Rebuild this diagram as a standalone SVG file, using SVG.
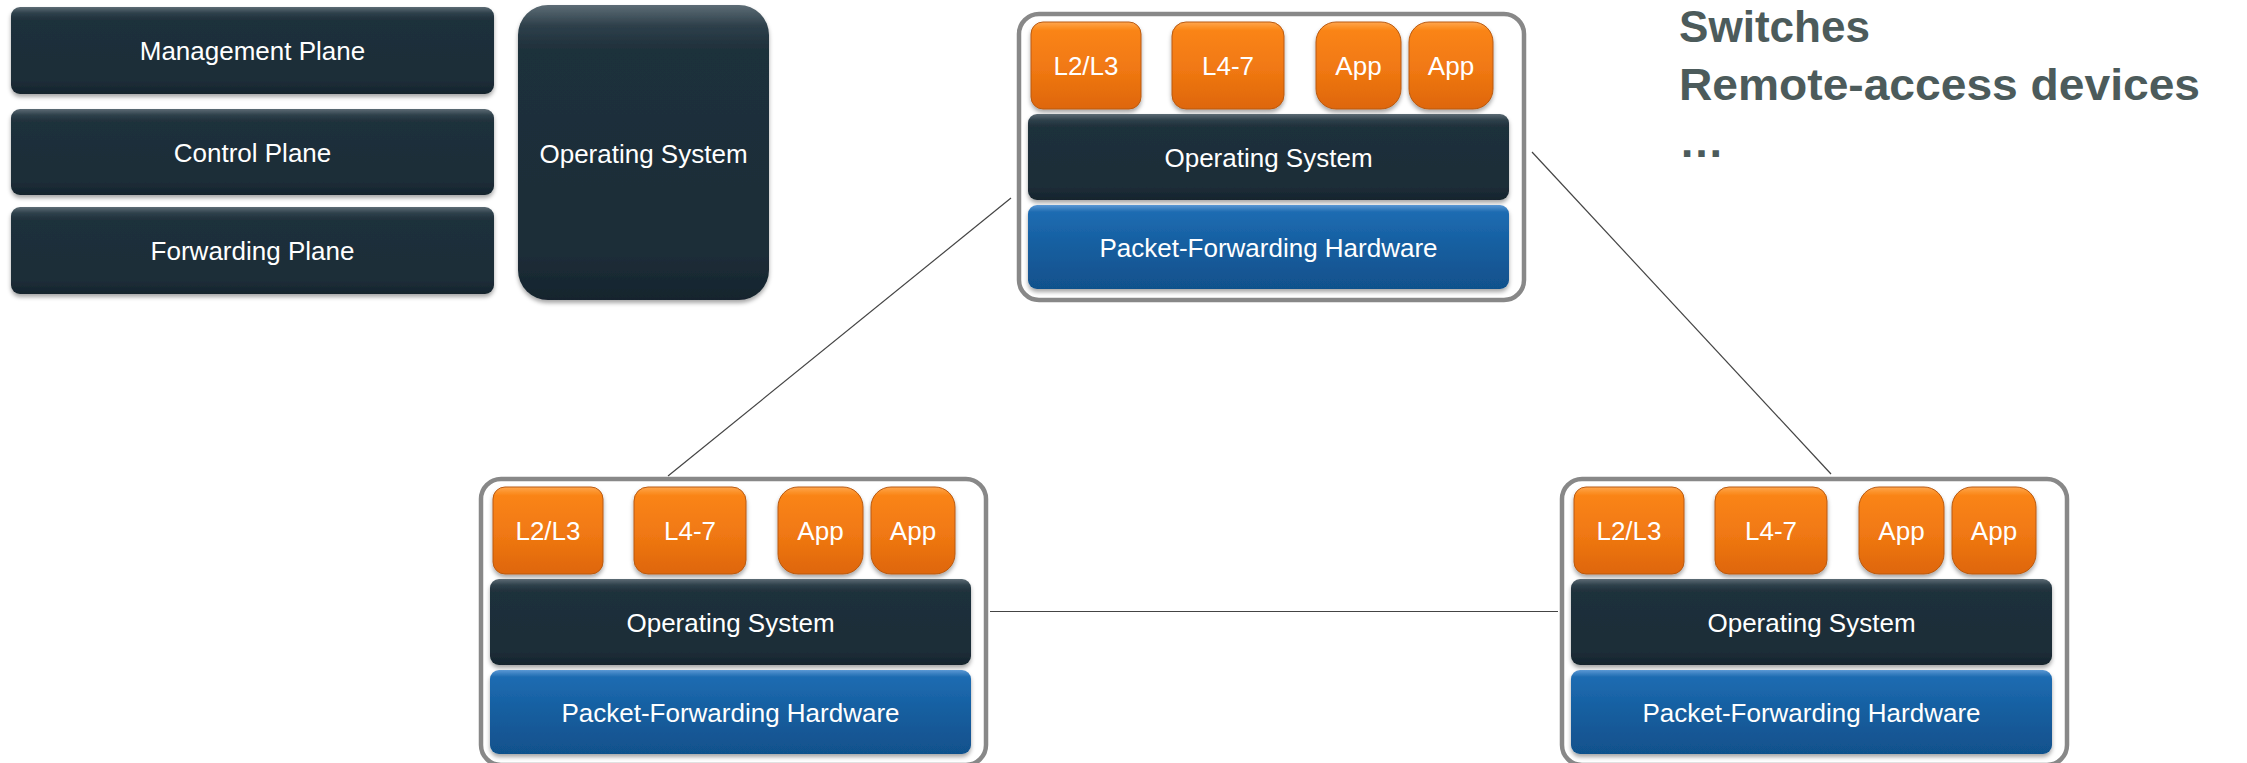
<svg xmlns="http://www.w3.org/2000/svg" width="2247" height="763" viewBox="0 0 2247 763">
  <style>
    .lbl { font-family: "Liberation Sans", Arial, sans-serif; font-size: 26px; fill: #ffffff; text-anchor: middle; }
    .head { font-family: "Liberation Sans", Arial, sans-serif; font-size: 45px; font-weight: bold; fill: #4c5b5b; }
    .dark { fill: url(#gDark); filter: url(#shadow); }
    .orange { fill: url(#gOrange); stroke: #b95a12; stroke-width: 1; filter: url(#shadow); }
    .blue { fill: url(#gBlue); filter: url(#shadow); }
    .frame { fill: #ffffff; stroke: #888888; stroke-width: 4.5; }
    .conn { stroke: #444444; stroke-width: 1.2; fill: none; }
  </style>
  <defs>
    <linearGradient id="gDark" x1="0" y1="0" x2="0" y2="1">
      <stop offset="0" stop-color="#5d6c75"/>
      <stop offset="0.07" stop-color="#2e404b"/>
      <stop offset="0.15" stop-color="#1f303b"/>
      <stop offset="0.85" stop-color="#1c2d38"/>
      <stop offset="1" stop-color="#16242d"/>
    </linearGradient>
    <linearGradient id="gOrange" x1="0" y1="0" x2="0" y2="1">
      <stop offset="0" stop-color="#ffa64e"/>
      <stop offset="0.1" stop-color="#fa8412"/>
      <stop offset="0.55" stop-color="#f07812"/>
      <stop offset="1" stop-color="#de660b"/>
    </linearGradient>
    <linearGradient id="gBlue" x1="0" y1="0" x2="0" y2="1">
      <stop offset="0" stop-color="#5a98d4"/>
      <stop offset="0.08" stop-color="#1f6cb2"/>
      <stop offset="0.5" stop-color="#155e9f"/>
      <stop offset="1" stop-color="#11518c"/>
    </linearGradient>
    <filter id="shadow" x="-10%" y="-10%" width="120%" height="130%">
      <feDropShadow dx="0" dy="3" stdDeviation="2" flood-color="#000000" flood-opacity="0.35"/>
    </filter>
  </defs>

  <rect x="0" y="0" width="2247" height="763" fill="#ffffff"/>

  <!-- Left: planes -->
  <g id="management-plane">
    <rect class="dark" x="11" y="7" width="483" height="87" rx="9"/>
    <text class="lbl" x="252.5" y="60">Management Plane</text>
  </g>
  <g id="control-plane">
    <rect class="dark" x="11" y="109" width="483" height="86" rx="9"/>
    <text class="lbl" x="252.5" y="162">Control Plane</text>
  </g>
  <g id="forwarding-plane">
    <rect class="dark" x="11" y="207" width="483" height="87" rx="9"/>
    <text class="lbl" x="252.5" y="260">Forwarding Plane</text>
  </g>
  <g id="operating-system">
    <rect class="dark" x="518" y="5" width="251" height="295" rx="30"/>
    <text class="lbl" x="643.5" y="163">Operating System</text>
  </g>

  <!-- Connectors -->
  <g id="connectors">
    <line class="conn" x1="1011" y1="198" x2="668" y2="476"/>
    <line class="conn" x1="1532" y1="152" x2="1831" y2="474"/>
    <line class="conn" x1="990" y1="611.5" x2="1558" y2="611.5"/>
  </g>

  <!-- Top device -->
  <g id="device-top" transform="translate(1019,14)">
    <rect class="frame" x="0" y="0" width="505" height="286" rx="20"/>
    <g id="top-l2l3"><rect class="orange" x="12" y="8" width="110" height="87" rx="12"/><text class="lbl" x="67" y="61">L2/L3</text></g>
    <g id="top-l47"><rect class="orange" x="153" y="8" width="112" height="87" rx="14"/><text class="lbl" x="209" y="61">L4-7</text></g>
    <g id="top-app1"><rect class="orange" x="297" y="8" width="85" height="87" rx="20"/><text class="lbl" x="339.5" y="61">App</text></g>
    <g id="top-app2"><rect class="orange" x="390" y="8" width="84" height="87" rx="20"/><text class="lbl" x="432" y="61">App</text></g>
    <g id="top-os"><rect class="dark" x="9" y="100" width="481" height="86" rx="9"/><text class="lbl" x="249.5" y="153">Operating System</text></g>
    <g id="top-hw"><rect class="blue" x="9" y="191" width="481" height="84" rx="9"/><text class="lbl" x="249.5" y="243">Packet-Forwarding Hardware</text></g>
  </g>

  <!-- Bottom-left device -->
  <g id="device-left" transform="translate(481,479)">
    <rect class="frame" x="0" y="0" width="505" height="286" rx="20"/>
    <g id="left-l2l3"><rect class="orange" x="12" y="8" width="110" height="87" rx="12"/><text class="lbl" x="67" y="61">L2/L3</text></g>
    <g id="left-l47"><rect class="orange" x="153" y="8" width="112" height="87" rx="14"/><text class="lbl" x="209" y="61">L4-7</text></g>
    <g id="left-app1"><rect class="orange" x="297" y="8" width="85" height="87" rx="20"/><text class="lbl" x="339.5" y="61">App</text></g>
    <g id="left-app2"><rect class="orange" x="390" y="8" width="84" height="87" rx="20"/><text class="lbl" x="432" y="61">App</text></g>
    <g id="left-os"><rect class="dark" x="9" y="100" width="481" height="86" rx="9"/><text class="lbl" x="249.5" y="153">Operating System</text></g>
    <g id="left-hw"><rect class="blue" x="9" y="191" width="481" height="84" rx="9"/><text class="lbl" x="249.5" y="243">Packet-Forwarding Hardware</text></g>
  </g>

  <!-- Bottom-right device -->
  <g id="device-right" transform="translate(1562,479)">
    <rect class="frame" x="0" y="0" width="505" height="286" rx="20"/>
    <g id="right-l2l3"><rect class="orange" x="12" y="8" width="110" height="87" rx="12"/><text class="lbl" x="67" y="61">L2/L3</text></g>
    <g id="right-l47"><rect class="orange" x="153" y="8" width="112" height="87" rx="14"/><text class="lbl" x="209" y="61">L4-7</text></g>
    <g id="right-app1"><rect class="orange" x="297" y="8" width="85" height="87" rx="20"/><text class="lbl" x="339.5" y="61">App</text></g>
    <g id="right-app2"><rect class="orange" x="390" y="8" width="84" height="87" rx="20"/><text class="lbl" x="432" y="61">App</text></g>
    <g id="right-os"><rect class="dark" x="9" y="100" width="481" height="86" rx="9"/><text class="lbl" x="249.5" y="153">Operating System</text></g>
    <g id="right-hw"><rect class="blue" x="9" y="191" width="481" height="84" rx="9"/><text class="lbl" x="249.5" y="243">Packet-Forwarding Hardware</text></g>
  </g>

  <!-- Heading list -->
  <g id="device-list">
    <text class="head" x="1679" y="42" textLength="191" lengthAdjust="spacingAndGlyphs">Switches</text>
    <text class="head" x="1679" y="100" textLength="521" lengthAdjust="spacingAndGlyphs">Remote-access devices</text>
    <text class="head" x="1679" y="157">…</text>
  </g>
</svg>
